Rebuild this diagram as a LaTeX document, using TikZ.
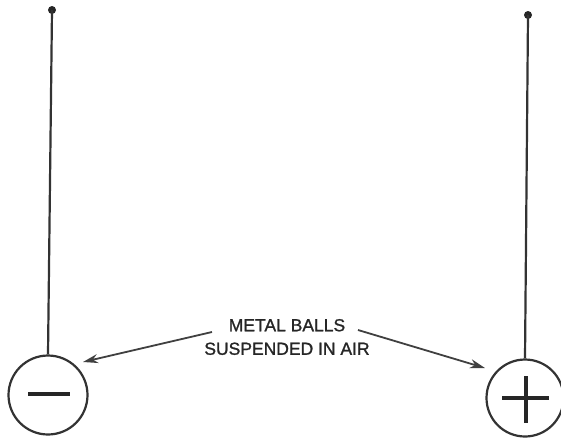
\documentclass[tikz,border=0pt]{standalone}
\usepackage{fontspec}
\setmainfont{Liberation Sans}
\newfontfamily\lblfont[FakeBold=1.2]{Liberation Sans}
\usetikzlibrary{arrows.meta}
\begin{document}
\begin{tikzpicture}[x=1pt,y=-1pt,
  ink/.style={draw=black!80,line width=2.2pt},
  ball/.style={circle,draw=black!80,line width=2.2pt,inner sep=0pt,minimum size=#1},
  pin/.style={circle,fill=black!85,inner sep=0pt,minimum size=8pt},
  sign/.style={line width=3.2pt,black!85},
  ptr/.style={draw=black!75,line width=1.8pt,-{Stealth[length=15pt,width=9pt]}},
  lbl/.style={font=\lblfont\fontsize{17.5}{23.5}\selectfont,text=black!85,align=center}]
\useasboundingbox (0,0) rectangle (561,437);
% pins and balls
\node[pin] (lp) at (52,10) {};
\node[pin] (rp) at (528,15) {};
\node[ball=79pt] (lb) at (48,395) {};
\node[ball=77pt] (rb) at (525,398) {};
\draw[ink] (lp.center) -- (lb.north);
\draw[ink] (rp.center) -- (rb.north);
% signs
\draw[sign] (28,394) -- (70,394);
\draw[sign] (502,398) -- (549,398);
\draw[sign] (526,376) -- (526,423);
% label
\node[lbl] (t) at (287,337) {METAL BALLS\\SUSPENDED IN AIR};
\coordinate (la) at (212,332);
\coordinate (ra) at (358,330);
\coordinate (lt) at (83,362);
\coordinate (rt) at (485,368);
\draw[ptr] (la) -- (lt);
\draw[ptr] (ra) -- (rt);
\end{tikzpicture}
\end{document}
